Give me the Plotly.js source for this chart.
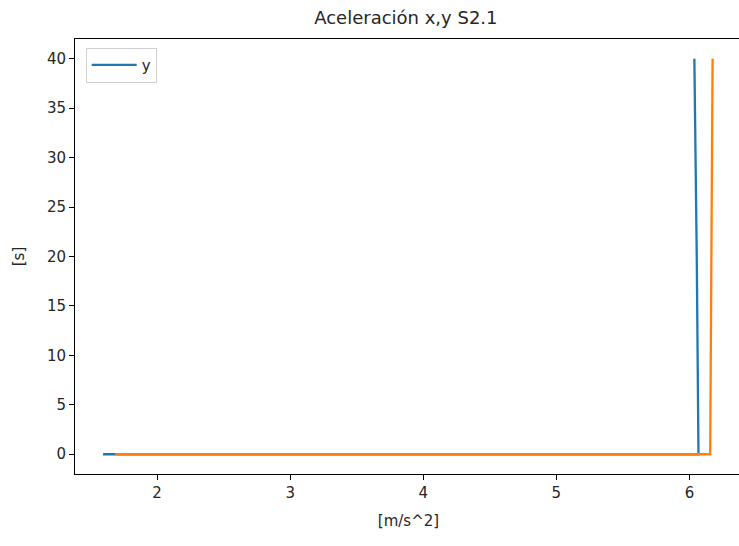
<!DOCTYPE html>
<html>
<head>
<meta charset="utf-8">
<script src="https://cdn.plot.ly/plotly-3.0.1.min.js"></script>
<style>html,body{margin:0;padding:0;overflow:hidden;background:#fff;}#chart{overflow:hidden;}</style>
</head>
<body>
<div id="chart" style="width:739px;height:546px;"></div>
<script>
// Series
const blueX = [1.594, 3.0, 4.5, 6.068, 6.055, 6.037];
const blueY = [0, 0, 0, 0, 20, 40];
const orangeX = [1.684, 3.0, 4.5, 6.156, 6.165, 6.174];
const orangeY = [0, 0, 0, 0, 20, 40];
const xTicks = [2, 3, 4, 5, 6];
const yTicks = [0, 5, 10, 15, 20, 25, 30, 35, 40];
const titleText = 'Aceleración x,y S2.1';
const xLabel = '[m/s^2]';
const yLabel = '[s]';

const font = {family: 'DejaVu Sans, sans-serif', size: 15, color: '#262626'};

const data = [
  {x: blueX, y: blueY, mode: 'lines', name: 'y', line: {color: '#1f77b4', width: 2.3}, showlegend: true},
  {x: orangeX, y: orangeY, mode: 'lines', name: 'x', line: {color: '#ff7f0e', width: 2.3}, showlegend: false}
];

const axisCommon = {
  showgrid: false, zeroline: false, showline: true, linecolor: '#000', linewidth: 1,
  mirror: true, ticks: 'outside', ticklen: 5, tickcolor: '#000', tickwidth: 1,
  tickfont: font
};

const layout = {
  width: 742, height: 546,
  margin: {l: 75, r: 0, t: 39, b: 72},
  paper_bgcolor: '#fff', plot_bgcolor: '#fff',
  font: font,
  title: {text: titleText, font: {family: 'DejaVu Sans, sans-serif', size: 18, color: '#262626'}, x: 0.547, xanchor: 'center', y: 0.967, yanchor: 'middle'},
  xaxis: Object.assign({}, axisCommon, {
    range: [1.383, 6.395], tickvals: xTicks, ticktext: xTicks.map(String),
    title: {text: xLabel, font: font, standoff: 14}
  }),
  yaxis: Object.assign({}, axisCommon, {
    range: [-2, 42], tickvals: yTicks, ticktext: yTicks.map(String),
    title: {text: yLabel, font: font, standoff: 18}
  }),
  legend: {
    x: 0.016, y: 0.98, xanchor: 'left', yanchor: 'top',
    bgcolor: 'rgba(255,255,255,0.8)', bordercolor: '#d0d0d0', borderwidth: 1,
    font: font, itemwidth: 45
  },
  showlegend: true
};

Plotly.newPlot('chart', data, layout, {displayModeBar: false, staticPlot: true});
</script>
</body>
</html>
